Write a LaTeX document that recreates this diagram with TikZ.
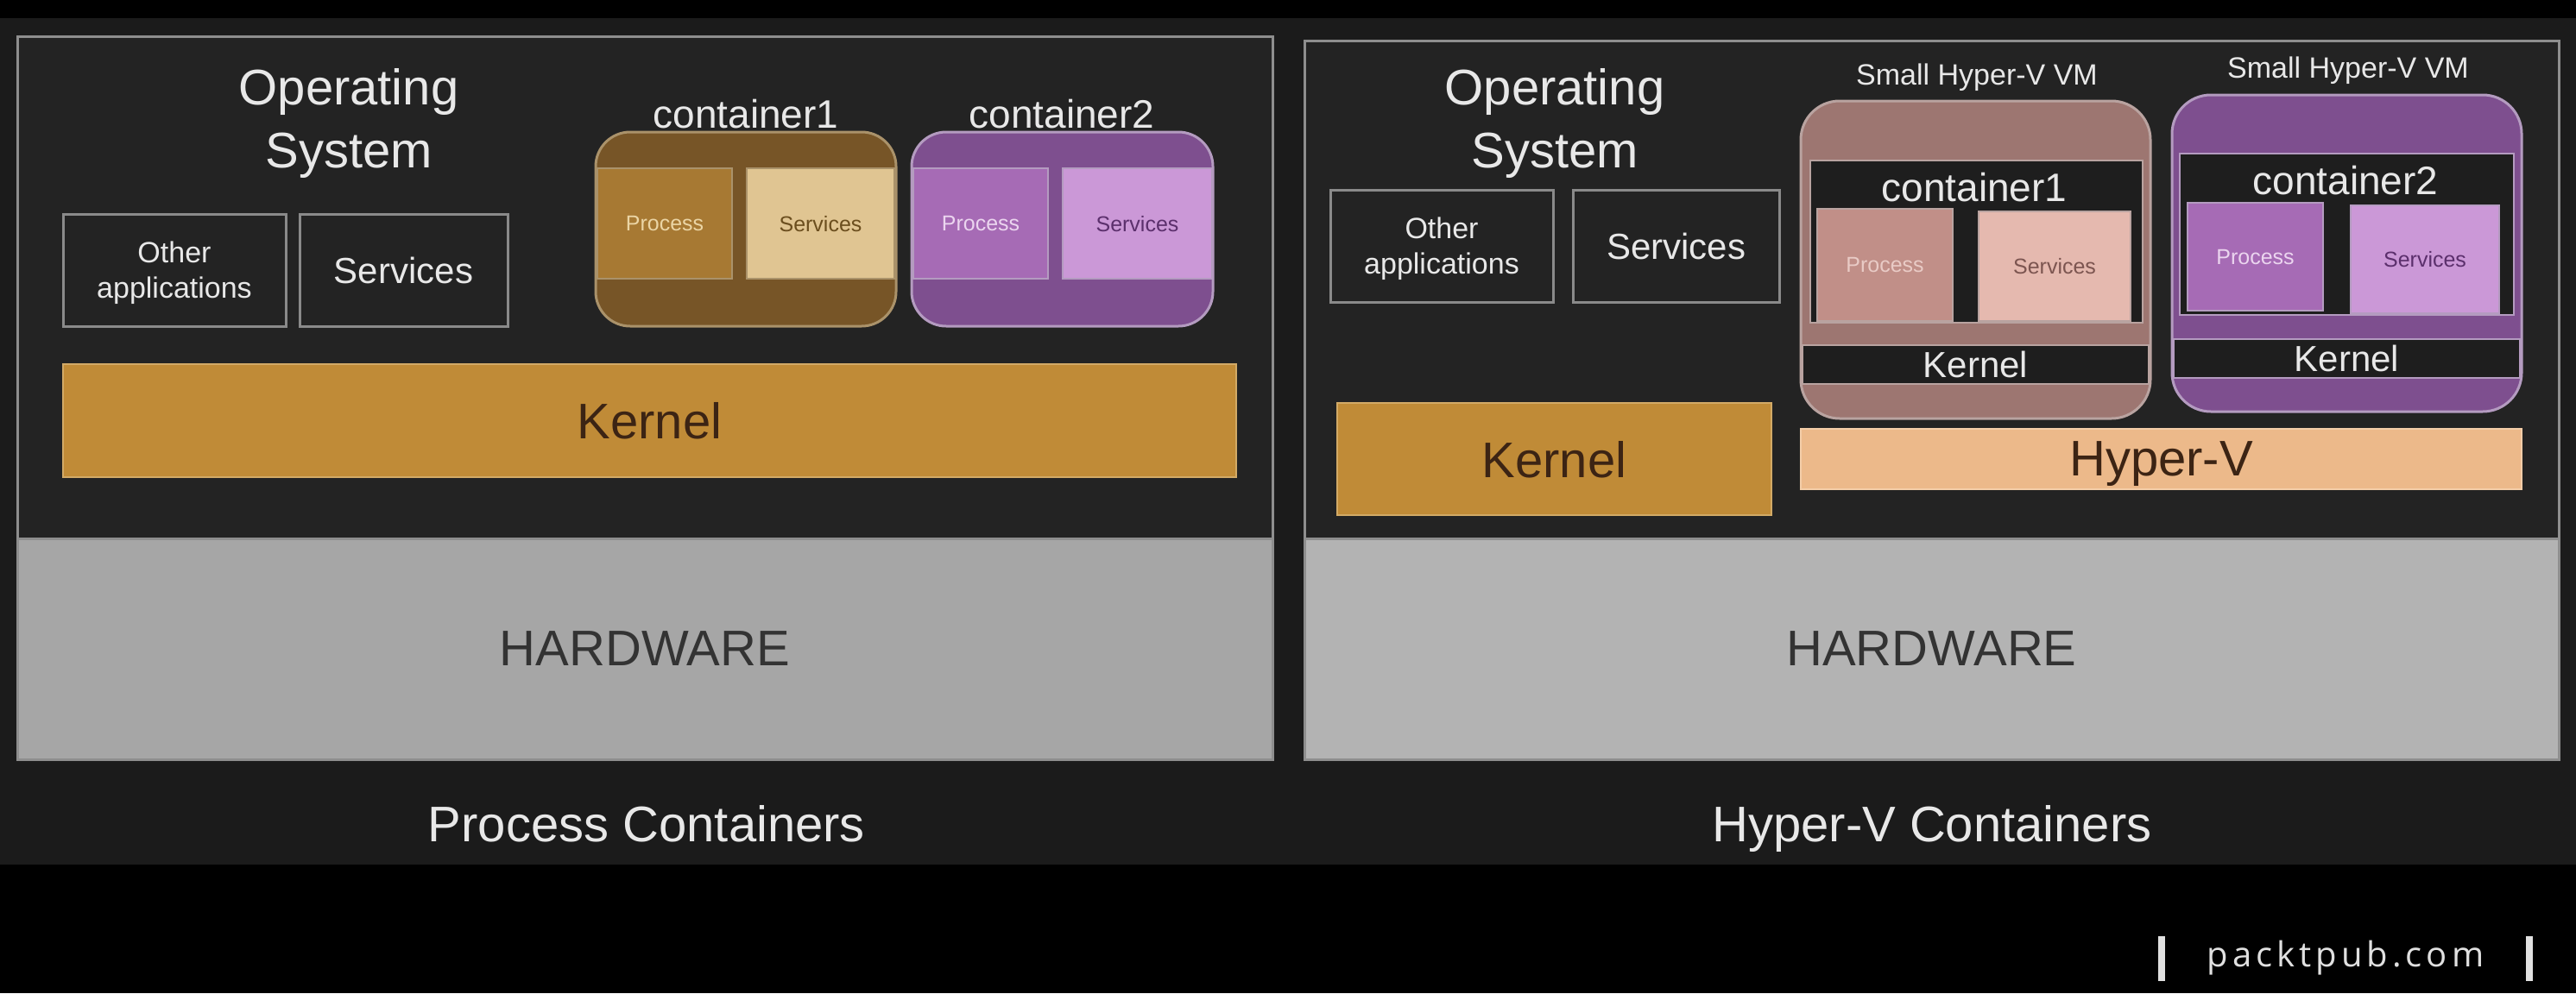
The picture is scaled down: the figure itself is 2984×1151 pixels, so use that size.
\documentclass[tikz,border=0pt]{standalone}
\usepackage{fontspec}
\setmainfont{Liberation Sans}
\newfontfamily\packtfont{Open Sans}
\definecolor{bgdark}{HTML}{1B1B1B}
\definecolor{panelbg}{HTML}{232323}
\definecolor{panelline}{HTML}{8E8E8E}
\definecolor{boxline}{HTML}{8A8A8A}
\definecolor{hwL}{HTML}{A6A6A6}
\definecolor{hwR}{HTML}{B3B3B3}
\definecolor{hwtext}{HTML}{333333}
\definecolor{kernelc}{HTML}{C08B37}
\definecolor{kernelline}{HTML}{D2AA66}
\definecolor{kerneltext}{HTML}{3C2414}
\definecolor{txt}{HTML}{E8E8E8}
\definecolor{cAband}{HTML}{775527}
\definecolor{cAproc}{HTML}{A77933}
\definecolor{cAserv}{HTML}{E0C592}
\definecolor{cAline}{HTML}{AA926A}
\definecolor{cAptext}{HTML}{EBD5A5}
\definecolor{cAstext}{HTML}{6B4E1E}
\definecolor{cBband}{HTML}{7E4F8F}
\definecolor{cBproc}{HTML}{A66BB5}
\definecolor{cBserv}{HTML}{CB98D7}
\definecolor{cBline}{HTML}{B49BC0}
\definecolor{cBptext}{HTML}{EBD5EF}
\definecolor{cBstext}{HTML}{5B2F6C}
\definecolor{vmAband}{HTML}{9D7671}
\definecolor{vmAproc}{HTML}{C18F88}
\definecolor{vmAserv}{HTML}{E5B9AF}
\definecolor{vmAline}{HTML}{B9A3A0}
\definecolor{vmAptext}{HTML}{E9CBC6}
\definecolor{vmAstext}{HTML}{7C5550}
\definecolor{hyperv}{HTML}{ECB98A}
\definecolor{hypervline}{HTML}{F3CDA8}
\definecolor{darkfill}{HTML}{1E1E1E}
\definecolor{packt}{HTML}{E0E0E0}
\tikzset{
  blk/.style={inner sep=0pt, outer sep=0pt, anchor=north west, text depth=0pt, align=center},
  fbig/.style={font=\fontsize{58pt}{73pt}\selectfont},
  fcont/.style={font=\fontsize{46pt}{55pt}\selectfont},
  fserv/.style={font=\fontsize{42pt}{50pt}\selectfont},
  fother/.style={font=\fontsize{34pt}{41pt}\selectfont},
  fsmall/.style={font=\fontsize{25pt}{30pt}\selectfont},
  fvmk/.style={font=\fontsize{42pt}{50pt}\selectfont},
  panel/.style={blk, fill=panelbg, draw=panelline, line width=3pt},
  hw/.style={blk, draw=panelline, line width=3pt, fbig, text=hwtext},
  osbox/.style={blk, draw=boxline, line width=3pt, text=txt},
  label/.style={inner sep=0pt, outer sep=0pt, anchor=base, text=txt},
  oslabel/.style={inner sep=0pt, outer sep=0pt, anchor=north, align=center, text=txt, fbig},
}
\begin{document}
\begin{tikzpicture}[x=1pt, y=-1pt]
\useasboundingbox (0,0) rectangle (2984,1151);
\fill[black] (0,0) rectangle (2984,1151);
\fill[bgdark] (0,21) rectangle (2984,1002);

% ---------------- Left panel: Process Containers ----------------
\node[panel, minimum width=1454pt, minimum height=838pt] (panelL) at (20,42) {};
\node[hw, fill=hwL, minimum width=1454pt, minimum height=256pt] (hwL) at (20,624) {HARDWARE};
\node[oslabel] (osL) at (404,79) {Operating\\System};
\node[osbox, fother, minimum width=258pt, minimum height=130pt] (otherL) at (73,248) {Other\\applications};
\node[osbox, fserv, minimum width=241pt, minimum height=130pt] (servL) at (347,248) {Services};
\node[blk, fbig, fill=kernelc, draw=kernelline, line width=2pt, text=kerneltext,
      minimum width=1359pt, minimum height=131pt] (kernL) at (73,422) {Kernel};

\node[blk, fill=cAband, draw=cAline, line width=3pt, rounded corners=40pt,
      minimum width=348pt, minimum height=225pt] (c1L) at (690,153) {};
\node[blk, fsmall, fill=cAproc, draw=cAline, line width=2pt, text=cAptext,
      minimum width=156pt, minimum height=128pt] (c1Lp) at (692,195) {Process};
\node[blk, fsmall, fill=cAserv, draw=cAline, line width=2pt, text=cAstext,
      minimum width=171pt, minimum height=128pt] (c1Ls) at (865,195) {Services};
\node[label, fcont] (c1Llab) at (864,148) {container1};

\node[blk, fill=cBband, draw=cBline, line width=3pt, rounded corners=40pt,
      minimum width=349pt, minimum height=225pt] (c2L) at (1056,153) {};
\node[blk, fsmall, fill=cBproc, draw=cBline, line width=2pt, text=cBptext,
      minimum width=156pt, minimum height=128pt] (c2Lp) at (1058,195) {Process};
\node[blk, fsmall, fill=cBserv, draw=cBline, line width=2pt, text=cBstext,
      minimum width=173pt, minimum height=128pt] (c2Ls) at (1231,195) {Services};
\node[label, fcont] (c2Llab) at (1230,148) {container2};

\node[label, fbig] (capL) at (749,975) {Process Containers};

% ---------------- Right panel: Hyper-V Containers ----------------
\node[panel, minimum width=1453pt, minimum height=833pt] (panelR) at (1511,47) {};
\node[hw, fill=hwR, minimum width=1453pt, minimum height=256pt] (hwR) at (1511,624) {HARDWARE};
\node[oslabel] (osR) at (1801,79) {Operating\\System};
\node[osbox, fother, minimum width=258pt, minimum height=130pt] (otherR) at (1541,220) {Other\\applications};
\node[osbox, fserv, minimum width=239pt, minimum height=130pt] (servR) at (1822,220) {Services};
\node[blk, fbig, fill=kernelc, draw=kernelline, line width=2pt, text=kerneltext,
      minimum width=503pt, minimum height=130pt] (kernR) at (1549,467) {Kernel};
\node[blk, fbig, fill=hyperv, draw=hypervline, line width=2pt, text=kerneltext,
      minimum width=835pt, minimum height=70pt] (hyperv) at (2086,497) {Hyper-V};

% VM 1
\node[blk, fill=vmAband, draw=vmAline, line width=3pt, rounded corners=45pt,
      minimum width=405pt, minimum height=368pt] (vm1) at (2086,117) {};
\node[blk, fill=darkfill, draw=vmAline, line width=2pt,
      minimum width=385pt, minimum height=188pt] (vm1c) at (2097,186) {};
\node[blk, fsmall, fill=vmAproc, draw=vmAline, line width=2pt, text=vmAptext,
      minimum width=157pt, minimum height=130pt] (vm1p) at (2105,242) {Process};
\node[blk, fsmall, fill=vmAserv, draw=vmAline, line width=2pt, text=vmAstext,
      minimum width=176pt, minimum height=127pt] (vm1s) at (2292,245) {Services};
\node[blk, fvmk, fill=darkfill, draw=vmAline, line width=2pt, text=txt,
      minimum width=401pt, minimum height=45pt] (vm1k) at (2088,400) {Kernel};
\node[label, fcont] (vm1clab) at (2287,233) {container1};
\node[label, fother] (vm1lab) at (2290,98) {Small Hyper-V VM};

% VM 2
\node[blk, fill=cBband, draw=cBline, line width=3pt, rounded corners=45pt,
      minimum width=405pt, minimum height=367pt] (vm2) at (2516,110) {};
\node[blk, fill=darkfill, draw=cBline, line width=2pt,
      minimum width=387pt, minimum height=187pt] (vm2c) at (2525,178) {};
\node[blk, fsmall, fill=cBproc, draw=cBline, line width=2pt, text=cBptext,
      minimum width=157pt, minimum height=125pt] (vm2p) at (2534,235) {Process};
\node[blk, fsmall, fill=cBserv, draw=cBline, line width=2pt, text=cBstext,
      minimum width=172pt, minimum height=125pt] (vm2s) at (2723,238) {Services};
\node[blk, fvmk, fill=darkfill, draw=cBline, line width=2pt, text=txt,
      minimum width=401pt, minimum height=45pt] (vm2k) at (2518,393) {Kernel};
\node[label, fcont] (vm2clab) at (2717,225) {container2};
\node[label, fother] (vm2lab) at (2720,90) {Small Hyper-V VM};

\node[label, fbig] (capR) at (2238,975) {Hyper-V Containers};

% ---------------- Watermark ----------------
\node[blk, fill=packt, minimum width=8pt, minimum height=52pt] (barL) at (2500,1085) {};
\node[blk, fill=packt, minimum width=8pt, minimum height=52pt] (barR) at (2926,1085) {};
\node[label, text=packt, font=\packtfont\fontsize{40pt}{48pt}\selectfont] (packt) at (2717,1120)
  {p\kern5pt a\kern5pt c\kern5pt k\kern5pt t\kern5pt p\kern5pt u\kern5pt b\kern5pt .\kern5pt c\kern5pt o\kern5pt m};
\end{tikzpicture}
\end{document}
